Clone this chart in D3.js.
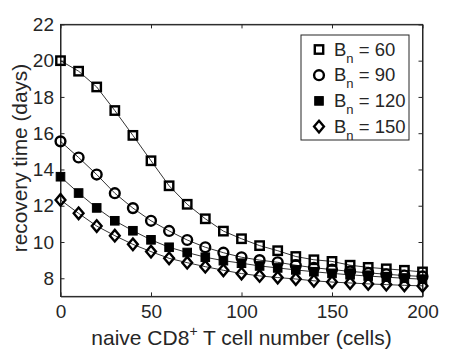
<!DOCTYPE html>
<html><head><meta charset="utf-8">
<script src="https://cdn.jsdelivr.net/npm/d3@7"></script>
<style>body{margin:0;background:#fff;} text{font-family:"Liberation Sans",Arial,sans-serif;fill:#262626;}</style>
</head><body><svg id="c" width="467" height="350"></svg>
<script>
const xValues = [0,10,20,30,40,50,60,70,80,90,100,110,120,130,140,150,160,170,180,190,200];
const seriesNames = ["60","90","120","150"];
const b60  = [20.0,19.42,18.55,17.25,15.88,14.48,13.1,12.08,11.28,10.6,10.18,9.8,9.52,9.2,9.02,8.93,8.72,8.6,8.52,8.44,8.35];
const b90  = [15.55,14.66,13.72,12.69,11.87,11.17,10.61,10.11,9.71,9.41,9.16,9.0,8.88,8.72,8.58,8.48,8.38,8.3,8.22,8.15,8.1];
const b120 = [13.6,12.7,11.88,11.17,10.62,10.12,9.71,9.42,9.16,8.97,8.83,8.68,8.57,8.46,8.36,8.27,8.19,8.12,8.06,8.0,7.95];
const b150 = [12.32,11.58,10.88,10.35,9.87,9.47,9.1,8.86,8.64,8.44,8.26,8.13,8.04,7.96,7.86,7.79,7.74,7.69,7.65,7.61,7.58];
const xTicks = [0,50,100,150,200];
const yTicks = [8,10,12,14,16,18,20,22];

const svg = d3.select("#c");
const L=60.5, R=422.5, T=24.4, B=296.4;
const x = d3.scaleLinear().domain([0,200]).range([L,R]);
const y = d3.scaleLinear().domain([7,22]).range([B,T]);
const axisCol="#262626";

svg.append("rect").attr("x",L).attr("y",T).attr("width",R-L).attr("height",B-T)
  .attr("fill","none").attr("stroke",axisCol).attr("stroke-width",1);

const gx = svg.append("g").attr("transform",`translate(0,${B})`)
  .call(d3.axisBottom(x).tickValues(xTicks).tickSizeInner(-4).tickSizeOuter(0).tickPadding(8.5));
const gxt = svg.append("g").attr("transform",`translate(0,${T})`)
  .call(d3.axisTop(x).tickValues(xTicks).tickSizeInner(-4).tickSizeOuter(0).tickFormat(""));
const gy = svg.append("g").attr("transform",`translate(${L},0)`)
  .call(d3.axisLeft(y).tickValues(yTicks).tickSizeInner(-4).tickSizeOuter(0).tickPadding(6.5));
const gyr = svg.append("g").attr("transform",`translate(${R},0)`)
  .call(d3.axisRight(y).tickValues(yTicks).tickSizeInner(-4).tickSizeOuter(0).tickFormat(""));
[gx,gxt,gy,gyr].forEach(g=>{
  g.select(".domain").attr("stroke",axisCol);
  g.selectAll(".tick line").attr("stroke",axisCol);
  g.selectAll("text").attr("font-size",19).attr("fill","#262626").style("font-family","Liberation Sans, Arial, sans-serif");
});

const data = [b60,b90,b120,b150];
const line = d3.line().x((d,i)=>x(xValues[i])).y(d=>y(d));
data.forEach(s=>{
  svg.append("path").datum(s).attr("d",line).attr("fill","none").attr("stroke","#000").attr("stroke-width",0.8);
});

function marker(g, type, cx, cy){
  if(type===0){
    g.append("rect").attr("x",cx-4.2).attr("y",cy-4.2).attr("width",8.4).attr("height",8.4)
      .attr("fill","none").attr("stroke","#000").attr("stroke-width",2.4);
  } else if(type===1){
    g.append("circle").attr("cx",cx).attr("cy",cy).attr("r",4.9)
      .attr("fill","none").attr("stroke","#000").attr("stroke-width",2.4);
  } else if(type===2){
    g.append("rect").attr("x",cx-4.3).attr("y",cy-4.3).attr("width",8.6).attr("height",8.6)
      .attr("fill","#000").attr("stroke","#000").attr("stroke-width",1);
  } else {
    g.append("path").attr("d",`M${cx},${cy-5.8}L${cx+4.9},${cy}L${cx},${cy+5.8}L${cx-4.9},${cy}Z`)
      .attr("fill","none").attr("stroke","#000").attr("stroke-width",2.4);
  }
}
data.forEach((s,k)=>{
  const g = svg.append("g");
  s.forEach((v,i)=>marker(g,k,x(xValues[i]),y(v)));
});

const lg = svg.append("g");
lg.append("rect").attr("x",301).attr("y",35).attr("width",108).attr("height",105)
  .attr("fill","#fff").attr("stroke",axisCol).attr("stroke-width",1);
seriesNames.forEach((n,k)=>{
  const cy = 49.5 + k*25.7;
  marker(lg,k,319,cy);
  const t = lg.append("text").attr("x",334).attr("y",cy+6).attr("font-size",18.5);
  t.append("tspan").text("B");
  t.append("tspan").attr("font-size",13).attr("dy",7).text("n");
  t.append("tspan").attr("dy",-7).text(" = "+n);
});

svg.append("text").attr("x",(L+R)/2).attr("y",345).attr("text-anchor","middle").attr("font-size",21)
  .call(t=>{t.append("tspan").text("naive CD8");t.append("tspan").attr("font-size",14).attr("dy",-9).text("+");
    t.append("tspan").attr("dy",9).text(" T cell number (cells)");});
svg.append("text").attr("transform",`translate(27,158) rotate(-90)`).attr("text-anchor","middle")
  .attr("font-size",20.8).text("recovery time (days)");
</script></body></html>
